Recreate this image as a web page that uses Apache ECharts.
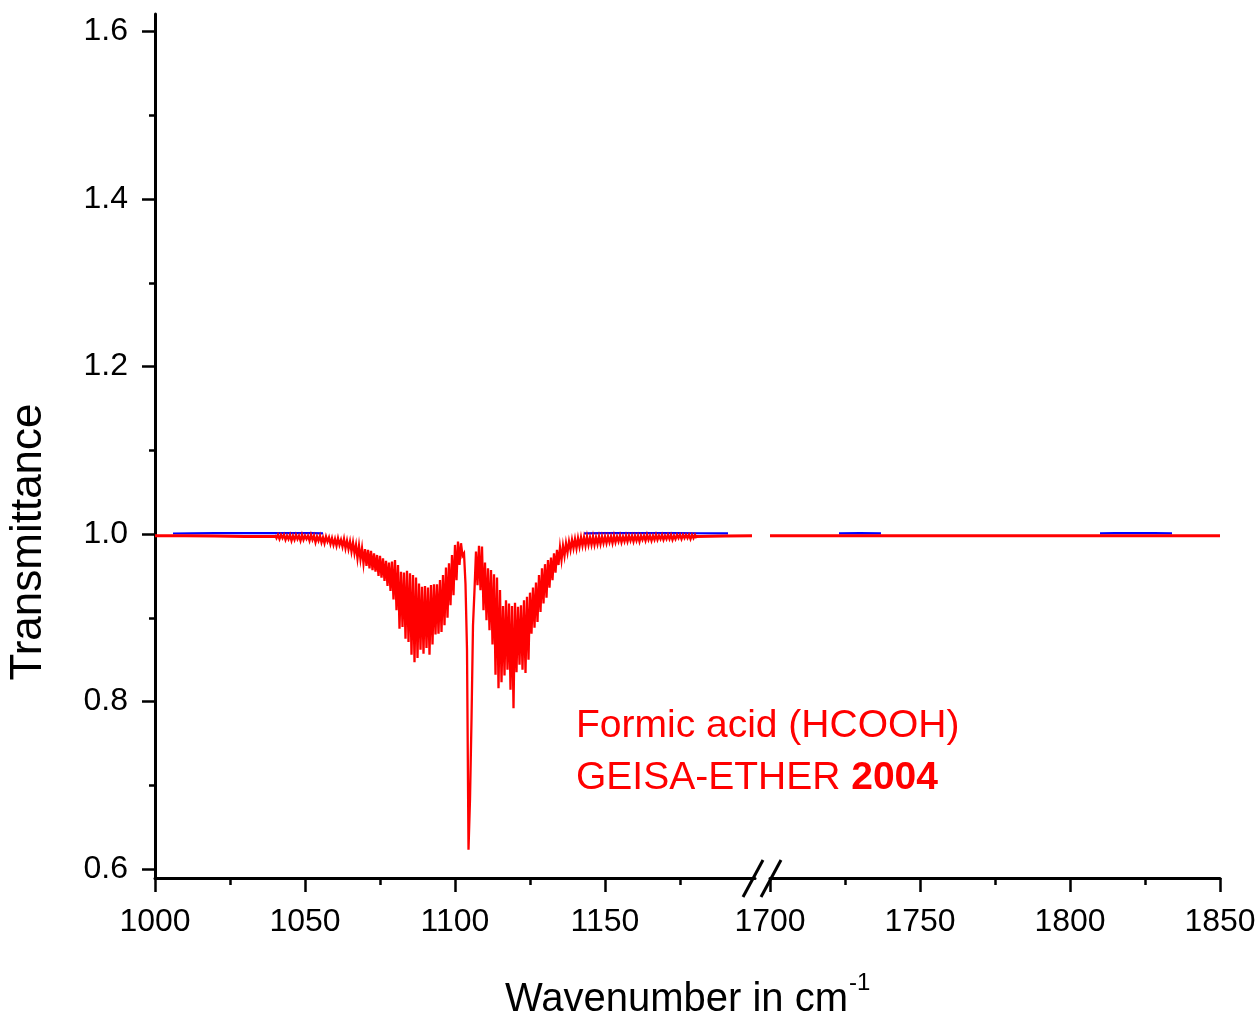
<!DOCTYPE html>
<html>
<head>
<meta charset="utf-8">
<script src="https://cdn.jsdelivr.net/npm/echarts@6/dist/echarts.min.js"></script>
<style>
  html, body { margin: 0; padding: 0; background: #ffffff; }
  #chart { width: 1260px; height: 1018px; }
</style>
</head>
<body>
<div id="chart"></div>
<script>
// Broken wavenumber axis: two segments (cm-1)
const lowRange = [1000, 1200];
const highRange = [1700, 1850];
const lowTicks = [1000, 1050, 1100, 1150];
const lowMinorTicks = [1025, 1075, 1125, 1175];
const highTicks = [1700, 1750, 1800, 1850];
const highMinorTicks = [1725, 1775, 1825];

// Transmittance axis
const yRange = [0.5893, 1.6209];
const yTicks = [0.6, 0.8, 1.0, 1.2, 1.4, 1.6];
const yMinorTicks = [0.7, 0.9, 1.1, 1.3, 1.5];

// Band region: transmittance every 0.5 cm-1 starting at 1040 cm-1,
// alternating upper and lower edge of the dense line structure
const bandStart = 1040;
const bandStep = 0.5;
const bandTrans = [
  0.999,0.995, 0.999,0.994, 0.999,0.995, 0.999,0.993, 0.998,0.994,
  0.999,0.992, 0.998,0.993, 0.999,0.994, 0.998,0.992, 0.999,0.993,
  0.998,0.994, 0.998,0.992, 0.999,0.993, 0.998,0.990, 0.997,0.992,
  0.998,0.990, 0.996,0.989, 0.997,0.991, 0.996,0.988, 0.995,0.987,
  0.994,0.986, 0.995,0.987, 0.993,0.985, 0.994,0.983, 0.992,0.982,
  0.991,0.979, 0.990,0.977, 0.987,0.971, 0.986,0.970, 0.983,0.965,
  0.982,0.962, 0.981,0.959, 0.980,0.957, 0.977,0.955, 0.975,0.950,
  0.974,0.948, 0.971,0.944, 0.968,0.938, 0.966,0.932, 0.967,0.922,
  0.969,0.909, 0.963,0.887, 0.955,0.889, 0.954,0.875, 0.956,0.871,
  0.953,0.856, 0.951,0.847, 0.948,0.852, 0.941,0.862, 0.937,0.857,
  0.938,0.864, 0.936,0.856, 0.939,0.868, 0.940,0.880, 0.940,0.881,
  0.945,0.883, 0.951,0.891, 0.960,0.900, 0.965,0.915, 0.975,0.927,
  0.987,0.945, 0.991,0.963, 0.989,0.974, 0.977,0.940, 0.862,0.623,
  0.683,0.778, 0.891,0.933, 0.979,0.939, 0.986,0.933, 0.985,0.909,
  0.966,0.897, 0.959,0.885, 0.957,0.868, 0.952,0.832, 0.948,0.816,
  0.933,0.823, 0.914,0.831, 0.921,0.838, 0.917,0.814, 0.914,0.792,
  0.918,0.835, 0.913,0.844, 0.915,0.838, 0.921,0.834, 0.925,0.850,
  0.930,0.881, 0.936,0.888, 0.942,0.895, 0.951,0.907, 0.959,0.917,
  0.964,0.924, 0.969,0.936, 0.972,0.945, 0.977,0.954, 0.981,0.963,
  0.984,0.969, 0.986,0.974, 0.989,0.978, 0.991,0.981, 0.993,0.983,
  0.994,0.983, 0.995,0.985, 0.996,0.986, 0.996,0.986, 0.997,0.987,
  0.996,0.987, 0.997,0.987, 0.996,0.988, 0.997,0.988, 0.997,0.989,
  0.997,0.989, 0.997,0.990, 0.997,0.989, 0.998,0.990, 0.997,0.991,
  0.998,0.990, 0.997,0.991, 0.998,0.991, 0.998,0.992, 0.998,0.991,
  0.998,0.992, 0.998,0.991, 0.998,0.993, 0.998,0.992, 0.999,0.993,
  0.998,0.992, 0.998,0.993, 0.999,0.993, 0.998,0.994, 0.999,0.993,
  0.998,0.994, 0.999,0.994, 0.999,0.993, 0.998,0.994, 0.999,0.995,
  0.999,0.994, 0.999,0.995, 0.999,0.995, 0.999,0.994, 0.999,0.995,
  0.999,0.995
];

// Quiet wings outside the band
const wingLowWave = [1000, 1010, 1020, 1030, 1040];
const wingLowTrans = [0.998, 0.998, 0.9975, 0.997, 0.997];
const wingHighWave = [1180, 1190, 1199];
const wingHighTrans = [0.997, 0.9976, 0.9978];
const farWave = [1700, 1750, 1800, 1850];
const farTrans = [0.998, 0.998, 0.998, 0.998];

// Second (blue) trace, only where it shows above the red one; null = gap
const refLowWave = [1006, 1012, 1020, 1028, 1036, 1044, 1052, 1056, null, 1143, 1150, 1158, 1166, 1174, 1182, 1191];
const refLowTrans = [1.0006, 1.0008, 1.001, 1.001, 1.0011, 1.001, 1.001, 1.0008, null, 1.0008, 1.001, 1.0011, 1.001, 1.001, 1.0009, 1.0008];
const refHighWave = [1723, 1730, 1737, null, 1810, 1815, 1822, 1828, 1834];
const refHighTrans = [1.0008, 1.001, 1.0008, null, 1.0008, 1.0011, 1.001, 1.001, 1.0008];

const RED = '#ff0000';
const BLUE = '#0000ff';
const FONT = 'Liberation Sans, Arial, sans-serif';

function pairs(xs, ys) {
  return xs.map((x, i) => (x === null ? null : [x, ys[i]]));
}
const bandData = bandTrans.map((v, i) => [bandStart + i * bandStep, v]);

const chart = echarts.init(document.getElementById('chart'), null, { renderer: 'canvas' });

const axisLine = { show: true, onZero: false, lineStyle: { color: '#000', width: 3 } };
const tickStyle = { color: '#000', width: 2.5 };
const labelStyle = { color: '#000', fontFamily: FONT, fontSize: 32 };

function mainX(grid, range, ticks) {
  return {
    type: 'value', gridIndex: grid, min: range[0], max: range[1], position: 'bottom',
    axisLine: axisLine,
    axisTick: { show: true, inside: false, length: 14, lineStyle: tickStyle, customValues: ticks },
    axisLabel: Object.assign({ margin: 28, customValues: ticks, formatter: v => String(v) }, labelStyle),
    splitLine: { show: false }
  };
}
function minorX(grid, range, ticks) {
  return {
    type: 'value', gridIndex: grid, min: range[0], max: range[1], position: 'bottom',
    axisLine: { show: false },
    axisTick: { show: true, inside: false, length: 7, lineStyle: tickStyle, customValues: ticks },
    axisLabel: { show: false },
    splitLine: { show: false }
  };
}

chart.setOption({
  animation: false,
  backgroundColor: '#ffffff',
  grid: [
    { left: 155, top: 14, width: 600, bottom: 140, outerBoundsMode: 'none', containLabel: false },
    { left: 770, top: 14, width: 450, bottom: 140, outerBoundsMode: 'none', containLabel: false }
  ],
  xAxis: [
    mainX(0, lowRange, lowTicks),
    minorX(0, lowRange, lowMinorTicks),
    mainX(1, highRange, highTicks),
    minorX(1, highRange, highMinorTicks)
  ],
  yAxis: [
    {
      type: 'value', gridIndex: 0, min: yRange[0], max: yRange[1], position: 'left',
      axisLine: axisLine,
      axisTick: { show: true, inside: false, length: 13, lineStyle: tickStyle, customValues: yTicks },
      axisLabel: Object.assign({ margin: 27, customValues: yTicks, formatter: v => v.toFixed(1) }, labelStyle),
      splitLine: { show: false }
    },
    {
      type: 'value', gridIndex: 0, min: yRange[0], max: yRange[1], position: 'left',
      axisLine: { show: false },
      axisTick: { show: true, inside: false, length: 6, lineStyle: tickStyle, customValues: yMinorTicks },
      axisLabel: { show: false },
      splitLine: { show: false }
    },
    { type: 'value', gridIndex: 1, min: yRange[0], max: yRange[1], show: false }
  ],
  series: [
    { type: 'line', xAxisIndex: 0, yAxisIndex: 0, data: pairs(refLowWave, refLowTrans), showSymbol: false,
      lineStyle: { color: BLUE, width: 2.2 }, silent: true, z: 1 },
    { type: 'line', xAxisIndex: 2, yAxisIndex: 2, data: pairs(refHighWave, refHighTrans), showSymbol: false,
      lineStyle: { color: BLUE, width: 2.2 }, silent: true, z: 1 },
    { type: 'line', xAxisIndex: 0, yAxisIndex: 0, data: pairs(wingLowWave, wingLowTrans), showSymbol: false,
      lineStyle: { color: RED, width: 3 }, silent: true, z: 2 },
    { type: 'line', xAxisIndex: 0, yAxisIndex: 0, data: bandData, showSymbol: false, sampling: null,
      lineStyle: { color: RED, width: 2.3, join: 'miter' }, silent: true, z: 2 },
    { type: 'line', xAxisIndex: 0, yAxisIndex: 0, data: pairs(wingHighWave, wingHighTrans), showSymbol: false,
      lineStyle: { color: RED, width: 3 }, silent: true, z: 2 },
    { type: 'line', xAxisIndex: 2, yAxisIndex: 2, data: pairs(farWave, farTrans), showSymbol: false,
      lineStyle: { color: RED, width: 3 }, silent: true, z: 2 }
  ]
});

// Axis break marks and text, placed from the axis scales
const breakLeft = chart.convertToPixel({ xAxisIndex: 0 }, lowRange[1]);
const breakRight = chart.convertToPixel({ xAxisIndex: 2 }, highRange[0]);
const axisY = chart.convertToPixel({ yAxisIndex: 0 }, yRange[0]);
const slash = (cx) => ({
  type: 'line', z: 10,
  shape: { x1: cx - 10, y1: axisY + 19, x2: cx + 10, y2: axisY - 18 },
  style: { stroke: '#000', lineWidth: 3 }
});

chart.setOption({
  graphic: [
    slash(breakLeft - 2),
    slash(breakRight + 1),
    {
      type: 'text', x: 848, y: 1000, z: 10,
      style: { text: 'Wavenumber in cm', fill: '#000', font: '40px ' + FONT, textAlign: 'right', textVerticalAlign: 'middle' }
    },
    {
      type: 'text', x: 849, y: 983, z: 10,
      style: { text: '-1', fill: '#000', font: '24px ' + FONT, textAlign: 'left', textVerticalAlign: 'middle' }
    },
    {
      type: 'text', x: 29, y: 542, rotation: Math.PI / 2, z: 10,
      style: { text: 'Transmittance', fill: '#000', font: '44px ' + FONT, textAlign: 'center', textVerticalAlign: 'middle' }
    },
    {
      type: 'text', x: 576, y: 726, z: 10,
      style: { text: 'Formic acid (HCOOH)', fill: RED, font: '39px ' + FONT, textAlign: 'left', textVerticalAlign: 'middle' }
    },
    {
      type: 'text', x: 576, y: 778, z: 10,
      style: {
        text: 'GEISA-ETHER {b|2004}', fill: RED, font: '39px ' + FONT, textAlign: 'left', textVerticalAlign: 'middle',
        rich: { b: { fill: RED, fontFamily: FONT, fontSize: 39, fontWeight: 'bold' } }
      }
    }
  ]
});
</script>
</body>
</html>
